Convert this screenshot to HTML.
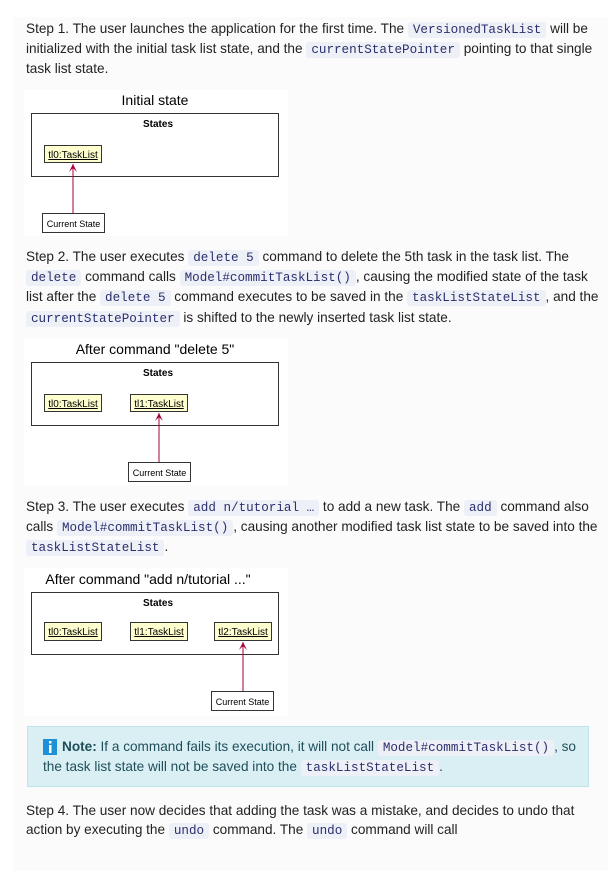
<!DOCTYPE html>
<html><head><meta charset="utf-8"><style>
html,body{margin:0;padding:0;width:608px;height:871px;background:#fff;overflow:hidden}
#bg{position:absolute;left:13px;top:17px;width:595px;height:854px;background:#fbfbfc}
.t{position:absolute;left:26px;font:13.6px/20px "Liberation Sans",sans-serif;color:#222;white-space:nowrap}
code{font:12.6px "Liberation Mono",monospace;background:#eef0f8;color:#2b2f6b;padding:1px 5px;border-radius:3px}
svg{position:absolute}
svg text{font-family:"Liberation Sans",sans-serif}
.note{position:absolute;left:27px;top:726px;width:560px;height:59px;background:#d9eff4;border:1px solid #bde3eb}
</style></head><body>
<div id="bg"></div>
<div class="t" style="top:19px">Step 1. The user launches the application for the first time. The <code>VersionedTaskList</code> will be</div>
<div class="t" style="top:39px">initialized with the initial task list state, and the <code>currentStatePointer</code> pointing to that single</div>
<div class="t" style="top:59px">task list state.</div>

<svg style="left:24px;top:90px" width="264" height="146">
<rect width="264" height="146" fill="#fff"/>
<text x="131" y="15" font-size="14" text-anchor="middle">Initial state</text>
<rect x="7.5" y="23.5" width="247" height="63" fill="none" stroke="#333" stroke-width="1"/>
<text x="134" y="37" font-size="10" font-weight="bold" text-anchor="middle">States</text>
<rect x="20.5" y="55.5" width="57" height="17" fill="#fefece" stroke="#333"/>
<text x="49" y="68" font-size="10" text-anchor="middle" text-decoration="underline">tl0:TaskList</text>
<line x1="49" y1="74" x2="49" y2="123" stroke="#a80036"/>
<path d="M45,82 L49,74 L53,82 L49,78 Z" fill="#a80036"/>
<rect x="18.5" y="123.5" width="62" height="19" fill="#fff" stroke="#333"/>
<text x="49.5" y="137" font-size="9" text-anchor="middle">Current State</text>
</svg>

<div class="t" style="top:247px">Step 2. The user executes <code>delete 5</code> command to delete the 5th task in the task list. The</div>
<div class="t" style="top:267px"><code>delete</code> command calls <code>Model#commitTaskList()</code>, causing the modified state of the task</div>
<div class="t" style="top:287px">list after the <code>delete 5</code> command executes to be saved in the <code>taskListStateList</code>, and the</div>
<div class="t" style="top:308px"><code>currentStatePointer</code> is shifted to the newly inserted task list state.</div>

<svg style="left:24px;top:339px" width="264" height="146">
<rect width="264" height="146" fill="#fff"/>
<text x="131" y="15" font-size="14" text-anchor="middle">After command "delete 5"</text>
<rect x="7.5" y="23.5" width="247" height="63" fill="none" stroke="#333"/>
<text x="134" y="37" font-size="10" font-weight="bold" text-anchor="middle">States</text>
<rect x="20.5" y="55.5" width="57" height="17" fill="#fefece" stroke="#333"/>
<text x="49" y="68" font-size="10" text-anchor="middle" text-decoration="underline">tl0:TaskList</text>
<rect x="106.5" y="55.5" width="57" height="17" fill="#fefece" stroke="#333"/>
<text x="135" y="68" font-size="10" text-anchor="middle" text-decoration="underline">tl1:TaskList</text>
<line x1="135" y1="74" x2="135" y2="123" stroke="#a80036"/>
<path d="M131,82 L135,74 L139,82 L135,78 Z" fill="#a80036"/>
<rect x="104.5" y="123.5" width="62" height="19" fill="#fff" stroke="#333"/>
<text x="135.5" y="137" font-size="9" text-anchor="middle">Current State</text>
</svg>

<div class="t" style="top:497px">Step 3. The user executes <code>add n/tutorial …</code> to add a new task. The <code>add</code> command also</div>
<div class="t" style="top:517px">calls <code>Model#commitTaskList()</code>, causing another modified task list state to be saved into the</div>
<div class="t" style="top:537px"><code>taskListStateList</code>.</div>

<svg style="left:24px;top:568px" width="264" height="148">
<rect width="264" height="148" fill="#fff"/>
<text x="124" y="16" font-size="14" text-anchor="middle">After command "add n/tutorial ..."</text>
<rect x="7.5" y="24.5" width="247" height="62" fill="none" stroke="#333"/>
<text x="134" y="38" font-size="10" font-weight="bold" text-anchor="middle">States</text>
<rect x="20.5" y="54.5" width="57" height="18" fill="#fefece" stroke="#333"/>
<text x="49" y="67" font-size="10" text-anchor="middle" text-decoration="underline">tl0:TaskList</text>
<rect x="106.5" y="54.5" width="57" height="18" fill="#fefece" stroke="#333"/>
<text x="135" y="67" font-size="10" text-anchor="middle" text-decoration="underline">tl1:TaskList</text>
<rect x="190.5" y="54.5" width="57" height="18" fill="#fefece" stroke="#333"/>
<text x="219" y="67" font-size="10" text-anchor="middle" text-decoration="underline">tl2:TaskList</text>
<line x1="219" y1="74" x2="219" y2="123" stroke="#a80036"/>
<path d="M215,82 L219,74 L223,82 L219,78 Z" fill="#a80036"/>
<rect x="187.5" y="123.5" width="62" height="19" fill="#fff" stroke="#333"/>
<text x="218.5" y="137" font-size="9" text-anchor="middle">Current State</text>
</svg>

<div class="note"></div>
<svg style="left:43px;top:739px" width="14" height="16"><rect width="14" height="16" fill="#1e90d8"/><rect x="6" y="2" width="2.5" height="2.5" fill="#fff"/><rect x="6" y="6" width="2.5" height="8" fill="#fff"/></svg>
<div class="t" style="top:737px;left:62px;color:#1f4e5a">
<b>Note:</b> If a command fails its execution, it will not call <code>Model#commitTaskList()</code>, so</div>
<div class="t" style="top:757px;left:43px;color:#1f4e5a">the task list state will not be saved into the <code>taskListStateList</code>.</div>

<div class="t" style="top:801px">Step 4. The user now decides that adding the task was a mistake, and decides to undo that</div>
<div class="t" style="top:820px">action by executing the <code>undo</code> command. The <code>undo</code> command will call</div>
</body></html>
